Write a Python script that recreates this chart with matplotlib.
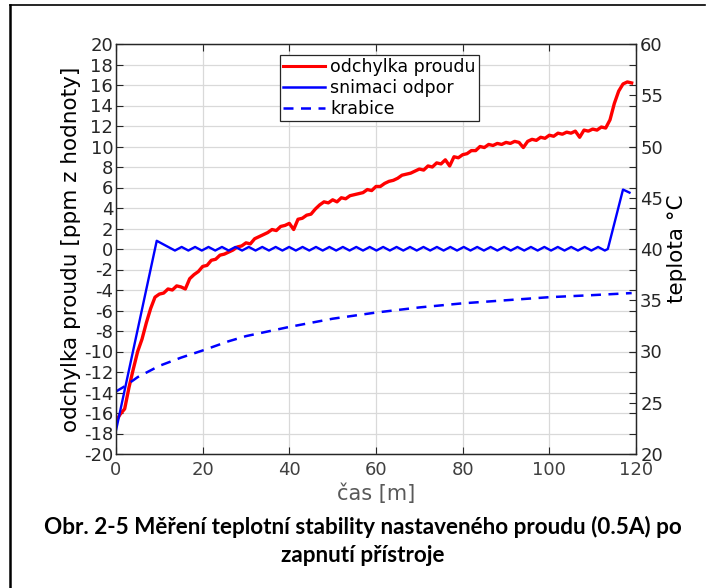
import numpy as np
import matplotlib.pyplot as plt
from matplotlib.lines import Line2D

plt.rcParams['axes.unicode_minus'] = False

# odchylka proudu [ppm], one sample per minute
t_proud = np.arange(0, 120)
proud = [-16.8, -16.1, -15.6, -13.5, -11.7, -10.0, -8.8, -7.2, -5.8, -4.7,
         -4.4, -4.3, -3.9, -4.0, -3.6, -3.7, -3.9, -2.9, -2.5, -2.2,
         -1.7, -1.6, -1.1, -1.0, -0.6, -0.5, -0.3, -0.1, 0.2, 0.3,
         0.6, 0.5, 1.0, 1.2, 1.4, 1.6, 1.9, 1.8, 2.2, 2.3,
         2.5, 1.9, 2.9, 3.0, 3.3, 3.4, 3.9, 4.3, 4.6, 4.5,
         4.8, 4.6, 5.0, 4.9, 5.2, 5.3, 5.4, 5.5, 5.8, 5.7,
         6.1, 6.1, 6.4, 6.6, 6.7, 6.9, 7.2, 7.3, 7.4, 7.6,
         7.8, 7.7, 8.1, 8.0, 8.4, 8.3, 8.7, 8.1, 9.0, 8.9,
         9.2, 9.3, 9.6, 9.6, 10.0, 9.9, 10.2, 10.1, 10.3, 10.2,
         10.4, 10.3, 10.5, 10.4, 9.9, 10.5, 10.7, 10.6, 10.9, 10.8,
         11.1, 11.0, 11.3, 11.2, 11.4, 11.3, 11.5, 10.9, 11.6, 11.5,
         11.7, 11.6, 11.9, 11.8, 12.6, 14.2, 15.4, 16.1, 16.3, 16.2]

# snimaci odpor [°C]
t_odpor = [0, 9.4, 13.6, 15.15, 16.7, 18.25, 19.8, 21.35, 22.9, 24.45, 26.0,
           27.55, 29.1, 30.65, 32.2, 33.75, 35.3, 36.85, 38.4, 39.95, 41.5,
           43.05, 44.6, 46.15, 47.7, 49.25, 50.8, 52.35, 53.9, 55.45, 57.0,
           58.55, 60.1, 61.65, 63.2, 64.75, 66.3, 67.85, 69.4, 70.95, 72.5,
           74.05, 75.6, 77.15, 78.7, 80.25, 81.8, 83.35, 84.9, 86.45, 88.0,
           89.55, 91.1, 92.65, 94.2, 95.75, 97.3, 98.85, 100.4, 101.95, 103.5,
           105.05, 106.6, 108.15, 109.7, 111.25, 112.8, 113.5, 117.0, 118.5]
odpor = [22.3, 40.8, 39.85, 40.2, 39.85, 40.2, 39.85, 40.2, 39.85, 40.2, 39.85,
         40.2, 39.85, 40.2, 39.85, 40.2, 39.85, 40.2, 39.85, 40.2, 39.85,
         40.2, 39.85, 40.2, 39.85, 40.2, 39.85, 40.2, 39.85, 40.2, 39.85,
         40.2, 39.85, 40.2, 39.85, 40.2, 39.85, 40.2, 39.85, 40.2, 39.85,
         40.2, 39.85, 40.2, 39.85, 40.2, 39.85, 40.2, 39.85, 40.2, 39.85,
         40.2, 39.85, 40.2, 39.85, 40.2, 39.85, 40.2, 39.85, 40.2, 39.85,
         40.2, 39.85, 40.2, 39.85, 40.2, 39.85, 40.0, 45.8, 45.5]

# krabice [°C]
t_krabice = [0, 2, 5, 10, 15, 20, 26, 30, 40, 50, 60, 70, 80, 90, 100, 110, 119]
krabice = [26.1, 26.6, 27.5, 28.6, 29.4, 30.1, 31.0, 31.5, 32.4, 33.2,
           33.8, 34.3, 34.7, 35.0, 35.3, 35.5, 35.7]

xticks = np.arange(0, 121, 20)
yticks_l = np.arange(-20, 21, 2)
yticks_r = np.arange(20, 61, 5)

tick_col = '#262626'

fig = plt.figure(figsize=(7.08, 5.88), dpi=100)
ax = fig.add_axes([116/708, 1 - 454/588, 520/708, 410/588])
ax2 = ax.twinx()

ax.plot(t_proud, proud, color='red', lw=2.4)
ax2.plot(t_odpor, odpor, color='blue', lw=1.7)
ax2.plot(t_krabice, krabice, color='blue', lw=1.8, ls=(0, (4, 3)))

ax.set_xlim(0, 120)
ax.set_ylim(-20, 20)
ax2.set_ylim(20, 60)
ax.set_xticks(xticks)
ax.set_yticks(yticks_l)
ax2.set_yticks(yticks_r)
ax.grid(True, color='#d9d9d9', lw=0.9)

ax.tick_params(direction='in', top=True, right=True, length=5, width=0.8,
               labelsize=13, colors=tick_col, pad=2)
ax.tick_params(axis='x', labelcolor='#404040', pad=5)
ax2.tick_params(direction='in', length=5, width=0.8, labelsize=13,
                colors=tick_col, pad=3)
for a in (ax, ax2):
    for s in a.spines.values():
        s.set_color(tick_col)
        s.set_linewidth(0.9)

ax.set_ylabel('odchylka proudu [ppm z hodnoty]', fontsize=15.5, color='black', labelpad=2)
ax2.set_ylabel('teplota °C', fontsize=15.5, color='black', labelpad=3)
ax.set_xlabel('čas [m]', fontsize=15, color='#595959', labelpad=3)

handles = [Line2D([], [], color='red', lw=2.2),
           Line2D([], [], color='blue', lw=1.8),
           Line2D([], [], color='blue', lw=1.8, ls=(0, (4, 3)))]
leg = ax.legend(handles, ['odchylka proudu', 'snimaci odpor', 'krabice'],
                loc='upper left', bbox_to_anchor=(164/520, 1 - 11/410),
                fontsize=12.5, frameon=True, fancybox=False, framealpha=1,
                handlelength=2.4, handletextpad=0.3, borderpad=0.2,
                labelspacing=0.15, borderaxespad=0)
leg.get_frame().set_edgecolor('#262626')
leg.get_frame().set_linewidth(0.9)
leg.set_zorder(10)

fig.text(363/708, 1 - 527/588, 'Obr. 2-5 Měření teplotní stability nastaveného proudu (0.5A) po',
         ha='center', va='center', fontsize=16.2, fontweight='bold', family='Lato')
fig.text(363/708, 1 - 556/588, 'zapnutí přístroje',
         ha='center', va='center', fontsize=16.2, fontweight='bold', family='Lato')

# page frame
fig.add_artist(Line2D([10/708, 10/708], [0, 1 - 5/588], color='black', lw=1.8))
fig.add_artist(Line2D([10/708, 705/708], [1 - 5/588, 1 - 5/588], color='black', lw=1.2))

fig.savefig('out.png', dpi=100)
